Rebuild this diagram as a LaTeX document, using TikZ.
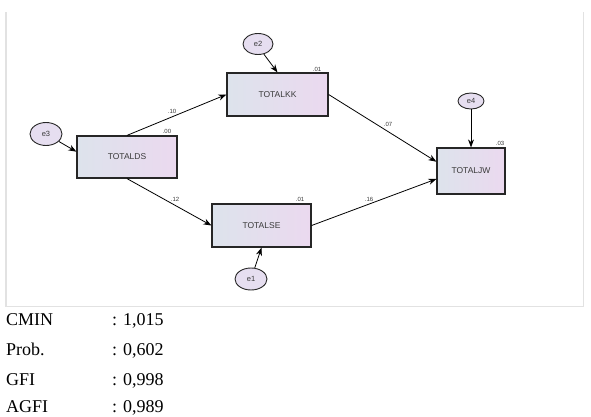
\documentclass[tikz,border=0pt]{standalone}
\usepackage{fontspec}
\setmainfont{Liberation Serif}
\newfontfamily\boxfont{Liberation Sans}
\usetikzlibrary{arrows.meta,shapes.geometric}
\definecolor{boxL}{HTML}{DDE3EC}
\definecolor{boxR}{HTML}{EBD9EF}
\definecolor{ellF}{HTML}{E6DEF0}
\definecolor{frameC}{HTML}{E2E2E2}
\definecolor{txtC}{HTML}{3A3A3A}
\tikzset{
  varbox/.style={draw=black!85, line width=1.2pt, left color=boxL, right color=boxR,
    rectangle, inner sep=0pt, font=\boxfont\fontsize{8.5}{10}\selectfont, text=txtC},
  errell/.style={draw=black!85, line width=0.9pt, fill=ellF, ellipse, inner sep=0pt,
    font=\boxfont\fontsize{7.5}{9}\selectfont, text=txtC},
  path/.style={draw=black, line width=0.8pt, -{Stealth[length=8pt,width=6pt]}},
  coef/.style={font=\boxfont\fontsize{6}{7}\selectfont, text=txtC, inner sep=0pt},
  fitlab/.style={font=\fontsize{18}{20}\selectfont, anchor=base west, inner sep=0pt}
}
\begin{document}
\begin{tikzpicture}[x=1pt,y=-1pt]
\useasboundingbox (0,0) rectangle (591,417);
% frame
\draw[frameC, line width=1.2pt] (6,12) -- (6,306.5) -- (583.5,306.5) -- (583.5,12);
% boxes
\node[varbox, minimum width=100pt, minimum height=42pt] (ds) at (127,157) {TOTALDS};
\node[varbox, minimum width=101pt, minimum height=43pt] (kk) at (277.5,94.5) {TOTALKK};
\node[varbox, minimum width=99pt, minimum height=43pt] (se) at (261.5,225.5) {TOTALSE};
\node[varbox, minimum width=68pt, minimum height=46pt] (jw) at (471,171) {TOTALJW};
% error ellipses
\node[errell, minimum width=32pt, minimum height=23pt] (e3) at (46,134) {e3};
\node[errell, minimum width=30pt, minimum height=21pt] (e2) at (258,44) {e2};
\node[errell, minimum width=26pt, minimum height=16pt] (e4) at (471,101) {e4};
\node[errell, minimum width=32pt, minimum height=22pt] (e1) at (251,279) {e1};
% paths
\draw[path] (e3) -- (ds.174);
\draw[path] (e2.300) -- (kk.north);
\draw[path] (e4) -- (jw.north);
\draw[path] (e1) -- (se.south);
\draw[path] (ds.north) -- (kk.west);
\draw[path] (ds.south) -- (se.west);
\draw[path] (kk.east) -- (jw.165);
\draw[path] (se.east) -- (jw.193);
% coefficients
\node[coef] (c1) at (172,111) {.10};
\node[coef] (c2) at (167,131) {.00};
\node[coef] (c3) at (317,69) {.01};
\node[coef] (c4) at (175,199) {.12};
\node[coef] (c5) at (300,199) {.01};
\node[coef] (c6) at (369,199) {.16};
\node[coef] (c7) at (388,124) {.07};
\node[coef] (c8) at (500,143) {.03};
% fit indices
\node[fitlab] (l1) at (6,325) {CMIN};
\node[fitlab] (v1) at (112,325) {: 1,015};
\node[fitlab] (l2) at (6,355) {Prob.};
\node[fitlab] (v2) at (112,355) {: 0,602};
\node[fitlab] (l3) at (6,385) {GFI};
\node[fitlab] (v3) at (112,385) {: 0,998};
\node[fitlab] (l4) at (6,412.5) {AGFI};
\node[fitlab] (v4) at (112,412.5) {: 0,989};
\end{tikzpicture}
\end{document}
